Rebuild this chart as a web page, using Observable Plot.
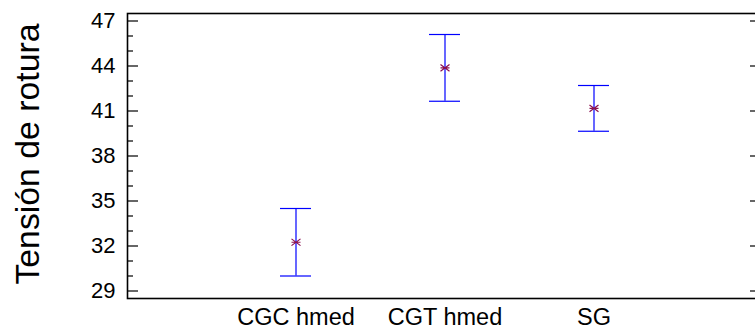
<!DOCTYPE html>
<html>
<head>
<meta charset="utf-8">
<script src="https://cdn.jsdelivr.net/npm/d3@7"></script>
<script src="https://cdn.jsdelivr.net/npm/@observablehq/plot@0.6"></script>
<style>
  html, body { margin: 0; padding: 0; background: white; overflow: hidden; }
  #chart svg { display: block; overflow: hidden; }
</style>
</head>
<body>
<div id="chart"></div>
<script>
const categories = ["CGC hmed", "CGT hmed", "SG"];
const means = [32.25, 43.87, 41.18];
const lower = [30.0, 41.65, 39.65];
const upper = [34.5, 46.1, 42.7];
const yTicks = [29, 32, 35, 38, 41, 44, 47];
const yMinorTicks = [30, 31, 33, 34, 36, 37, 39, 40, 42, 43, 45, 46];
const yLabel = "Tensión de rotura";

const data = categories.map((c, i) => ({c, m: means[i], lo: lower[i], hi: upper[i]}));

const asterisk = {
  draw(ctx, size) {
    const r = Math.sqrt(size / Math.PI);
    const k = 0.75;
    ctx.moveTo(-r, -r * k); ctx.lineTo(r, r * k);
    ctx.moveTo(-r, r * k); ctx.lineTo(r, -r * k);
    ctx.moveTo(-r, 0); ctx.lineTo(r, 0);
  }
};

const chart = Plot.plot({
  width: 755,
  height: 329,
  marginLeft: 127,
  marginRight: -6,
  marginTop: 13,
  marginBottom: 31,
  style: {fontFamily: "'Liberation Sans', Arial, sans-serif", background: "white", color: "black"},
  x: {type: "band", domain: categories, paddingInner: 0.793, paddingOuter: 1.01, align: 0.5},
  y: {domain: [28.5, 47.5]},
  marks: [
    Plot.axisY(yTicks, {anchor: "left", tickSize: 0, tickPadding: 12, fontSize: 22, label: null}),
    Plot.axisY(yTicks, {anchor: "left", tickSize: 11, dx: 11, tickFormat: () => "", label: null, strokeWidth: 1.2}),
    Plot.axisY(yMinorTicks, {anchor: "left", tickSize: 6, dx: 6, tickFormat: () => "", label: null, strokeWidth: 1.2}),
    Plot.axisY(yTicks, {anchor: "right", tickSize: 12, dx: -12, tickFormat: () => "", label: null, strokeWidth: 1.2}),
    Plot.axisX({anchor: "bottom", tickSize: 0, tickPadding: 10, fontSize: 23.5, label: null}),
    Plot.text([yLabel], {frameAnchor: "left", rotate: -90, dx: -89, dy: -2, textAnchor: "middle", lineAnchor: "bottom", fontSize: 33.8, fill: "black"}),
    Plot.frame({stroke: "black", strokeWidth: 1.6}),
    Plot.ruleX(data, {x: "c", y1: "lo", y2: "hi", stroke: "#0000ff", strokeWidth: 1.2}),
    Plot.tickY(data, {x: "c", y: "lo", stroke: "#0000ff", strokeWidth: 1.2}),
    Plot.tickY(data, {x: "c", y: "hi", stroke: "#0000ff", strokeWidth: 1.2}),
    Plot.dot(data, {x: "c", y: "m", symbol: asterisk, r: 4.5, fill: "none", stroke: "#8a1050", strokeWidth: 1.2})
  ]
});
document.getElementById("chart").appendChild(chart);
</script>
</body>
</html>
